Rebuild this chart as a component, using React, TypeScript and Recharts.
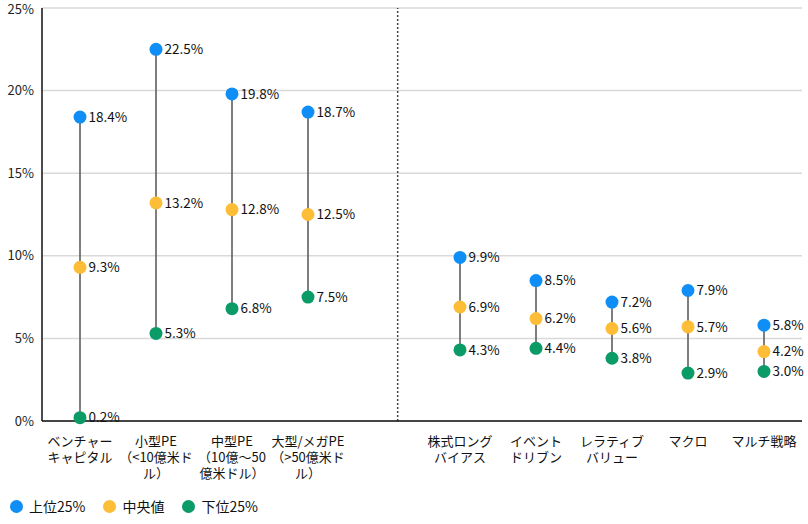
import {
  ComposedChart,
  Scatter,
  XAxis,
  YAxis,
  CartesianGrid,
  ReferenceLine,
  LabelList,
  Legend,
} from 'recharts';

const categoryLabels: string[][] = [
  ['ベンチャー', 'キャピタル'],
  ['小型PE', '（<10億米ド', 'ル）'],
  ['中型PE', '（10億～50', '億米ドル）'],
  ['大型/メガPE', '（>50億米ド', 'ル）'],
  ['株式ロング', 'バイアス'],
  ['イベント', 'ドリブン'],
  ['レラティブ', 'バリュー'],
  ['マクロ'],
  ['マルチ戦略'],
];
// slot 4 left empty to separate private markets from hedge funds
const slots = [0, 1, 2, 3, 5, 6, 7, 8, 9];
const dividerAt = 4.18;

const topValues = [18.4, 22.5, 19.8, 18.7, 9.9, 8.5, 7.2, 7.9, 5.8];
const medianValues = [9.3, 13.2, 12.8, 12.5, 6.9, 6.2, 5.6, 5.7, 4.2];
const bottomValues = [0.2, 5.3, 6.8, 7.5, 4.3, 4.4, 3.8, 2.9, 3.0];
const yTicks = [0, 5, 10, 15, 20, 25];

const seriesNames = ['上位25%', '中央値', '下位25%'];
const colors = ['#0f8ff5', '#fdbd36', '#0b9b67'];

const FONT = '"Noto Sans CJK JP", "Noto Sans", sans-serif';

const toPoints = (vals: number[]) => vals.map((v, i) => ({ x: slots[i], y: v }));

const seriesData = [toPoints(topValues), toPoints(medianValues), toPoints(bottomValues)];

const labelBySlot: Record<number, string[]> = {};
slots.forEach((s, i) => (labelBySlot[s] = categoryLabels[i]));

const dot = (color: string) => (p: any) => (
  <circle cx={p.cx} cy={p.cy} r={6.5} fill={color} />
);

const noShape = () => <g />;

const XTick = (props: any) => {
  const { x, y, payload } = props;
  const lines = labelBySlot[payload.value] || [];
  return (
    <text x={x} y={y} textAnchor="middle" fontSize={13} fill="#111" fontFamily={FONT}>
      {lines.map((l, i) => (
        <tspan key={i} x={x} dy={i === 0 ? 17 : 16}>
          {l}
        </tspan>
      ))}
    </text>
  );
};

const LegendContent = () => (
  <div style={{ display: 'flex', alignItems: 'center', fontFamily: FONT, fontSize: 14, color: '#111' }}>
    {seriesNames.map((n, i) => (
      <div key={n} style={{ display: 'flex', alignItems: 'center', marginRight: 18 }}>
        <span
          style={{
            width: 13,
            height: 13,
            borderRadius: '50%',
            background: colors[i],
            display: 'inline-block',
            marginRight: 6,
          }}
        />
        {n}
      </div>
    ))}
  </div>
);

export default function App() {
  return (
    <div style={{ position: 'absolute', left: 0, top: 0 }}>
      <ComposedChart
        width={808}
        height={524}
        margin={{ top: 8, right: 6, left: 0, bottom: 18 }}
        style={{ fontFamily: FONT }}
      >
        <CartesianGrid horizontal vertical={false} stroke="#d9d9d9" strokeWidth={1.5} />
        <XAxis
          type="number"
          dataKey="x"
          domain={[-0.5, 9.5]}
          ticks={slots}
          interval={0}
          tick={<XTick />}
          tickLine={false}
          axisLine={{ stroke: '#111', strokeWidth: 1.5 }}
          height={65}
          allowDuplicatedCategory={false}
        />
        <YAxis
          type="number"
          dataKey="y"
          domain={[0, 25]}
          ticks={yTicks}
          tickFormatter={(v) => `${v}%`}
          tick={{ fontSize: 13, fill: '#222', fontFamily: FONT }}
          tickLine={false}
          axisLine={{ stroke: '#111', strokeWidth: 1.5 }}
          width={42}
        />
        <ReferenceLine x={dividerAt} stroke="#444" strokeWidth={1.5} strokeDasharray="2 2" />
        {slots.map((s, i) => (
          <Scatter
            key={`range-${s}`}
            data={[
              { x: s, y: bottomValues[i] },
              { x: s, y: topValues[i] },
            ]}
            line={{ stroke: '#555', strokeWidth: 1.5 }}
            shape={noShape}
            legendType="none"
            isAnimationActive={false}
          />
        ))}
        {seriesData.map((d, k) => (
          <Scatter
            key={seriesNames[k]}
            name={seriesNames[k]}
            data={d}
            fill={colors[k]}
            shape={dot(colors[k])}
            isAnimationActive={false}
          >
            <LabelList
              dataKey="y"
              position="right"
              offset={4}
              formatter={(v: any) => `${Number(v).toFixed(1)}%`}
              style={{ fontSize: 13.5, fill: '#111', fontFamily: FONT }}
            />
          </Scatter>
        ))}
        <Legend
          content={<LegendContent />}
          verticalAlign="bottom"
          align="left"
          wrapperStyle={{ left: 10, bottom: 8, width: 400 }}
        />
      </ComposedChart>
    </div>
  );
}
